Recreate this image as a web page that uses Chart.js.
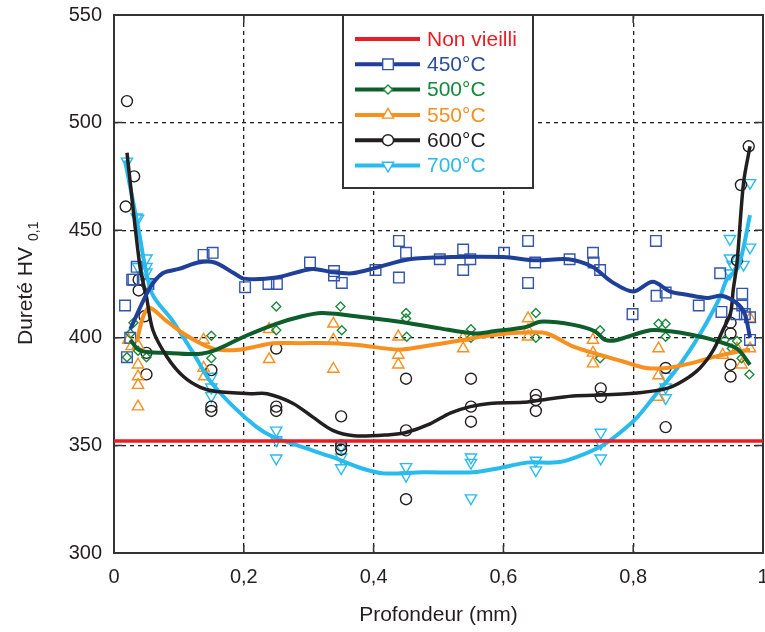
<!DOCTYPE html>
<html lang="fr">
<head>
<meta charset="utf-8">
<title>Dureté HV0,1 en fonction de la profondeur</title>
<script src="https://cdn.jsdelivr.net/npm/chart.js@4.4.1/dist/chart.umd.min.js"></script>
<style>
  html, body { margin: 0; background: #fff; }
</style>
</head>
<body>
<canvas id="chart" width="765" height="632"></canvas>
<script>
// --- measured hardness (HV0.1) vs depth (mm) ---
const depth450 = [0.017, 0.020, 0.025, 0.028, 0.030, 0.035, 0.053, 0.138, 0.152, 0.202, 0.238, 0.251, 0.302, 0.339, 0.339, 0.351, 0.403, 0.439, 0.450, 0.439, 0.502, 0.538, 0.549, 0.538, 0.601, 0.638, 0.649, 0.638, 0.702, 0.738, 0.739, 0.749, 0.799, 0.835, 0.836, 0.850, 0.901, 0.934, 0.936, 0.959, 0.968, 0.968, 0.972, 0.980, 0.980];
const hv450 = [415, 391, 400, 427, 427, 433, 425, 438.5, 439.5, 423.5, 425, 425, 435, 431, 429, 425.5, 431.5, 445, 439.5, 428, 436.5, 441, 436.5, 431.5, 439.5, 445, 435, 425.5, 436.5, 439.5, 435, 431.5, 411, 445, 419.5, 421, 415, 430, 412, 411, 420.5, 415, 411, 409.5, 399];

const depth500 = [0.020, 0.025, 0.030, 0.037, 0.050, 0.150, 0.150, 0.250, 0.250, 0.349, 0.351, 0.450, 0.450, 0.451, 0.550, 0.550, 0.650, 0.650, 0.749, 0.749, 0.839, 0.850, 0.850, 0.941, 0.952, 0.960, 0.967, 0.979];
const hv500 = [391, 402, 407, 394, 391, 401, 390.5, 414.5, 403.5, 414.5, 403.5, 411.5, 409, 400.5, 404, 400, 411.5, 400, 403.5, 390.5, 406.5, 406.5, 400.5, 399, 395, 398.5, 390.5, 383];

const depth550 = [0.022, 0.027, 0.037, 0.037, 0.037, 0.037, 0.037, 0.138, 0.138, 0.139, 0.239, 0.239, 0.338, 0.338, 0.338, 0.438, 0.438, 0.438, 0.538, 0.538, 0.638, 0.638, 0.638, 0.738, 0.738, 0.738, 0.839, 0.839, 0.839, 0.938, 0.960, 0.967, 0.980, 0.980];
const hv550 = [399, 396, 396.5, 387.5, 382, 378, 368, 399, 386, 382, 404, 390, 406.5, 399, 385.5, 400.5, 392, 387.5, 400, 395, 409, 403.5, 400.5, 399, 393, 388, 395, 382.5, 372.5, 392, 395, 387.5, 409, 395];

const depth600 = [0.018, 0.020, 0.031, 0.038, 0.038, 0.047, 0.050, 0.050, 0.150, 0.150, 0.150, 0.250, 0.250, 0.250, 0.350, 0.350, 0.350, 0.450, 0.450, 0.450, 0.550, 0.550, 0.550, 0.650, 0.650, 0.650, 0.750, 0.750, 0.850, 0.850, 0.950, 0.950, 0.950, 0.950, 0.960, 0.966, 0.978];
const hv600 = [461, 510, 475, 427, 422, 410, 393, 383, 385, 368, 366, 395, 368, 366, 363.5, 350, 348, 381, 357, 325, 381, 368, 361, 373.5, 371, 366, 376.5, 372.5, 386, 358.5, 407, 402, 387.5, 382, 436, 471, 489];

const depth700 = [0.020, 0.035, 0.037, 0.037, 0.050, 0.050, 0.050, 0.050, 0.150, 0.150, 0.150, 0.250, 0.250, 0.250, 0.350, 0.350, 0.350, 0.450, 0.450, 0.550, 0.550, 0.550, 0.650, 0.650, 0.750, 0.750, 0.750, 0.850, 0.850, 0.850, 0.949, 0.949, 0.949, 0.953, 0.970, 0.980, 0.980];
const hv700 = [482, 456, 455.5, 433, 437, 433, 430.5, 425.5, 382, 377, 373, 357, 352.5, 344, 349.5, 344.5, 339.5, 340, 336, 344.5, 342, 325.5, 343, 338.5, 356, 351, 344, 382, 377, 372, 446, 437, 430, 434, 434, 442, 472];

// --- smoothed trend of each series ---
const trendDepth450 = [0.025, 0.055, 0.075, 0.10, 0.13, 0.155, 0.185, 0.20, 0.25, 0.305, 0.336, 0.367, 0.403, 0.455, 0.52, 0.60, 0.65, 0.70, 0.737, 0.767, 0.80, 0.83, 0.857, 0.883, 0.914, 0.936, 0.96, 0.972, 0.98];
const trendHv450 = [404, 423, 430, 432, 435, 435, 430, 427.5, 428, 432, 430.5, 430, 432.5, 436.5, 437.5, 437.5, 436, 436.5, 433, 426, 421.5, 426, 421.5, 420, 418.5, 419.5, 416, 411, 400];

const trendDepth500 = [0.025, 0.04, 0.08, 0.13, 0.158, 0.20, 0.25, 0.29, 0.32, 0.36, 0.40, 0.45, 0.50, 0.555, 0.585, 0.635, 0.657, 0.708, 0.741, 0.757, 0.775, 0.826, 0.857, 0.888, 0.923, 0.96, 0.98];
const trendHv500 = [399, 394, 393, 392.5, 394.5, 400.5, 406.5, 410, 411.5, 410.5, 409, 407, 404.5, 402, 403, 405, 407.5, 406, 403, 399, 399, 403.5, 403, 401.5, 399, 395, 387.5];

const trendDepth550 = [0.035, 0.045, 0.055, 0.08, 0.107, 0.133, 0.158, 0.194, 0.22, 0.245, 0.287, 0.337, 0.38, 0.438, 0.476, 0.538, 0.564, 0.605, 0.636, 0.667, 0.707, 0.738, 0.784, 0.82, 0.852, 0.887, 0.923, 0.96, 0.98];
const trendHv550 = [398, 410, 414, 408, 402, 397.5, 394.5, 394.5, 396, 397.5, 397.5, 397.5, 396.5, 394.5, 396, 399, 400.5, 402, 402.5, 402, 396, 393, 389, 386, 386, 388, 391, 393.5, 394.5];

const trendDepth600 = [0.02, 0.04, 0.05, 0.06, 0.082, 0.107, 0.133, 0.158, 0.21, 0.236, 0.276, 0.307, 0.337, 0.37, 0.425, 0.45, 0.487, 0.518, 0.549, 0.579, 0.63, 0.656, 0.707, 0.76, 0.81, 0.852, 0.877, 0.903, 0.923, 0.938, 0.95, 0.954, 0.96, 0.97, 0.98];
const trendHv600 = [486, 433, 419, 403.5, 391, 382, 377, 375, 374, 374, 369.5, 363, 357, 354.5, 355, 356, 360, 365, 368, 369.5, 370, 371, 373, 373.5, 374.5, 376.5, 380, 386, 394, 403.5, 411.5, 422, 435, 472, 489];

const trendDepth700 = [0.017, 0.037, 0.058, 0.09, 0.122, 0.148, 0.184, 0.22, 0.245, 0.287, 0.337, 0.38, 0.415, 0.476, 0.553, 0.595, 0.636, 0.676, 0.698, 0.75, 0.78, 0.806, 0.837, 0.862, 0.888, 0.913, 0.934, 0.944, 0.962, 0.98];
const trendHv700 = [482.5, 451.5, 421, 408, 393, 380, 368, 358.5, 354, 349.5, 344.5, 339.5, 337, 337.5, 337.5, 339.5, 342, 342, 343, 349.5, 356, 363, 374.5, 383.5, 394.5, 407, 419, 427, 433, 457];

// unaged reference level
const refDepth = [0, 1];
const refHv = [352, 352];

const seriesLabels = ['Non vieilli', '450°C', '500°C', '550°C', '600°C', '700°C'];
const xTicks = [0, 0.2, 0.4, 0.6, 0.8, 1];
const yTicks = [300, 350, 400, 450, 500, 550];

const RED = '#ed1c24';
const BLUE = '#1f3f99', BLUE_MK = '#3355aa';
const GREEN = '#0d5e2a', GREEN_MK = '#1b8a3c';
const ORANGE = '#f7901e';
const BLACK = '#231f20';
const CYAN = '#29bbee';
const INK = '#231f20';
const FONT = '"Liberation Sans", Arial, sans-serif';

const pts = (xs, ys) => xs.map((x, i) => ({ x, y: ys[i] }));

function trend(xs, ys, color, order, width = 4) {
  return {
    data: pts(xs, ys), showLine: true, borderColor: color, borderWidth: width,
    pointRadius: 0, tension: 0.3, fill: false, order
  };
}

function marks(xs, ys, color, style, radius, rotation = 0) {
  return {
    data: pts(xs, ys), showLine: false, pointStyle: style, pointRadius: radius,
    pointRotation: rotation, pointBorderColor: color, pointBackgroundColor: 'rgba(0,0,0,0)',
    pointBorderWidth: 1.4, order: 10
  };
}

// marker look per legend row
const legendMarks = [
  null,
  { color: BLUE_MK, style: 'rect', radius: 7.5, rotation: 0 },
  { color: GREEN_MK, style: 'rectRot', radius: 4.5, rotation: 0 },
  { color: ORANGE, style: 'triangle', radius: 6.5, rotation: 0 },
  { color: BLACK, style: 'circle', radius: 5.5, rotation: 0 },
  { color: CYAN, style: 'triangle', radius: 6.5, rotation: 180 }
];
const legendColors = [RED, BLUE, GREEN, ORANGE, BLACK, CYAN];
const legendText = [RED, '#2b4ea2', '#128a3c', ORANGE, INK, CYAN];

// frame + inward tick marks around the plot
const framePlugin = {
  id: 'frame',
  beforeDatasetsDraw(chart) {
    const { ctx, chartArea: a, scales } = chart;
    ctx.save();
    ctx.strokeStyle = '#333';
    ctx.lineWidth = 1.5;
    ctx.beginPath();
    xTicks.forEach(v => {
      const x = scales.x.getPixelForValue(v);
      ctx.moveTo(x, a.bottom); ctx.lineTo(x, a.bottom - 8);
      ctx.moveTo(x, a.top); ctx.lineTo(x, a.top + 8);
    });
    yTicks.forEach(v => {
      const y = scales.y.getPixelForValue(v);
      ctx.moveTo(a.left, y); ctx.lineTo(a.left + 8, y);
      ctx.moveTo(a.right, y); ctx.lineTo(a.right - 8, y);
    });
    ctx.stroke();
    ctx.lineWidth = 2;
    ctx.strokeRect(a.left, a.top, a.right - a.left, a.bottom - a.top);
    ctx.restore();
  }
};

// boxed legend and the y title with its subscript
const legendPlugin = {
  id: 'boxLegend',
  afterDraw(chart) {
    const { ctx } = chart;
    const box = { x: 343, y: 15, w: 190, h: 173 };
    ctx.save();
    ctx.fillStyle = '#fff';
    ctx.fillRect(box.x, box.y, box.w, box.h);
    ctx.strokeStyle = '#333';
    ctx.lineWidth = 2;
    ctx.strokeRect(box.x, box.y, box.w, box.h);
    ctx.font = '21px ' + FONT;
    ctx.textBaseline = 'middle';
    seriesLabels.forEach((label, i) => {
      const y = 39 + i * 25.3;
      ctx.strokeStyle = legendColors[i];
      ctx.lineWidth = 4;
      ctx.beginPath();
      ctx.moveTo(355, y); ctx.lineTo(420, y);
      ctx.stroke();
      const m = legendMarks[i];
      if (m) {
        ctx.fillStyle = '#fff';
        ctx.strokeStyle = m.color;
        ctx.lineWidth = 1.4;
        Chart.helpers.drawPoint(ctx, { pointStyle: m.style, radius: m.radius, rotation: m.rotation, borderWidth: 1.4 }, 388, y);
      }
      ctx.fillStyle = legendText[i];
      ctx.fillText(label, 427, y + 1);
    });

    // y title: "Dureté HV" with subscript "0,1"
    ctx.translate(24, 345);
    ctx.rotate(-Math.PI / 2);
    ctx.fillStyle = INK;
    ctx.textBaseline = 'alphabetic';
    ctx.font = '21px ' + FONT;
    const main = 'Dureté HV';
    ctx.fillText(main, 0, 8);
    const w = ctx.measureText(main).width;
    ctx.font = '14px ' + FONT;
    ctx.fillText('0,1', w + 6, 14);
    ctx.restore();
  }
};

// let the plot run right up to the canvas edges; edge labels may overhang
const noEdgePadding = s => {
  s.paddingLeft = 0; s.paddingRight = 0; s.paddingTop = 0; s.paddingBottom = 0;
};

new Chart(document.getElementById('chart'), {
  type: 'scatter',
  data: {
    datasets: [
      trend(refDepth, refHv, RED, 0, 3.5),
      trend(trendDepth450, trendHv450, BLUE, 1),
      trend(trendDepth500, trendHv500, GREEN, 3),
      trend(trendDepth550, trendHv550, ORANGE, 4),
      trend(trendDepth600, trendHv600, BLACK, 2, 3.5),
      trend(trendDepth700, trendHv700, CYAN, 5),
      marks(depth450, hv450, BLUE_MK, 'rect', 7.5),
      marks(depth500, hv500, GREEN_MK, 'rectRot', 4.5),
      marks(depth550, hv550, ORANGE, 'triangle', 6.5),
      marks(depth600, hv600, BLACK, 'circle', 5.5),
      marks(depth700, hv700, CYAN, 'triangle', 6.5, 180)
    ]
  },
  options: {
    responsive: false,
    animation: false,
    layout: { autoPadding: false, padding: { left: 0, right: 2, top: 15, bottom: 0 } },
    plugins: { legend: { display: false }, tooltip: { enabled: false } },
    scales: {
      x: {
        type: 'linear', min: 0, max: 1,
        afterBuildTicks: s => { s.ticks = xTicks.map(v => ({ value: v })); },
        afterFit: s => { s.height = 79; noEdgePadding(s); },
        ticks: {
          padding: 12, color: INK, font: { family: FONT, size: 20 },
          callback: v => String(Number(v.toFixed(1))).replace('.', ',')
        },
        grid: { color: INK, lineWidth: 1.3, drawTicks: false },
        border: { display: false, dash: [4, 4] },
        title: {
          display: true, text: 'Profondeur (mm)', color: INK,
          font: { family: FONT, size: 21 }, padding: { top: 4, bottom: 4 }
        }
      },
      y: {
        type: 'linear', min: 300, max: 550,
        afterBuildTicks: s => { s.ticks = yTicks.map(v => ({ value: v })); },
        afterFit: s => { s.width = 114; noEdgePadding(s); },
        ticks: { padding: 12, color: INK, font: { family: FONT, size: 20 } },
        grid: { color: INK, lineWidth: 1.3, drawTicks: false },
        border: { display: false, dash: [4, 4] }
      }
    }
  },
  plugins: [framePlugin, legendPlugin]
});
</script>
</body>
</html>
